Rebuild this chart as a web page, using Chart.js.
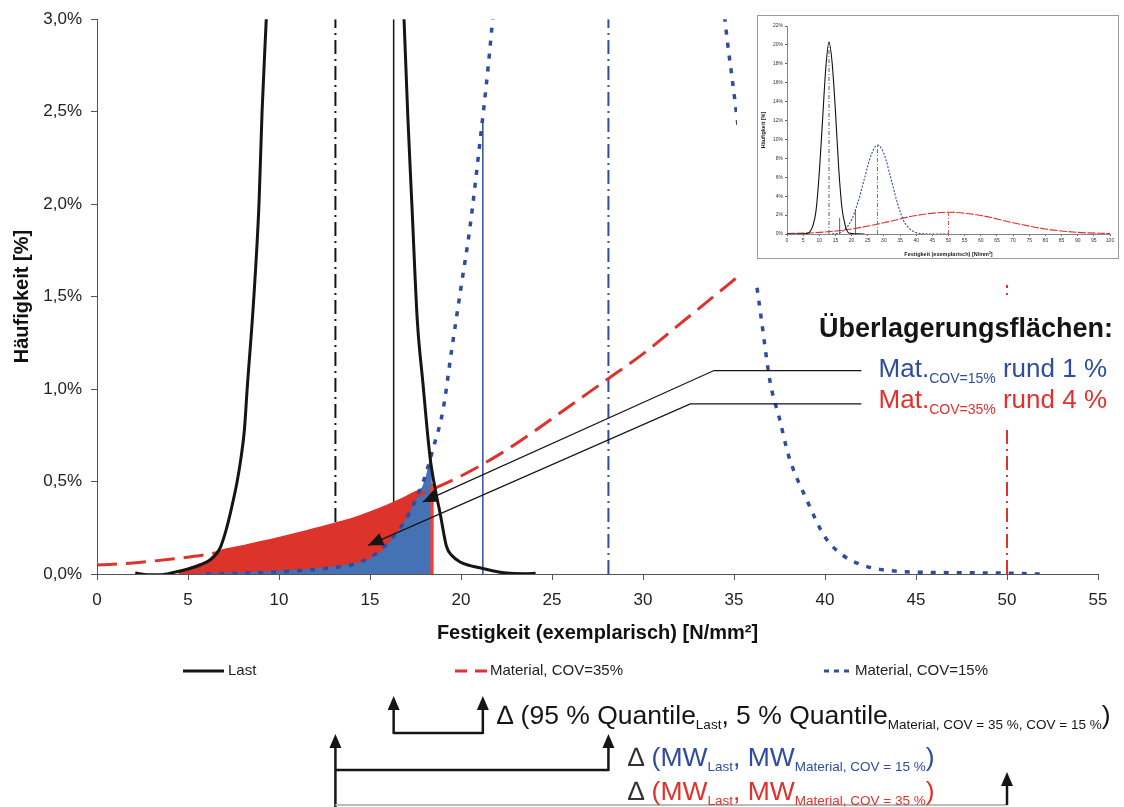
<!DOCTYPE html>
<html>
<head>
<meta charset="utf-8">
<script src="https://cdn.jsdelivr.net/npm/chart.js@4.4.1/dist/chart.umd.min.js"></script>
<style>
html, body { margin: 0; padding: 0; background: #fff; }
#wrap { position: relative; width: 1124px; height: 807px; overflow: hidden; }
#main { position: absolute; left: 0; top: 0; }
#insetBox { position: absolute; left: 737px; top: 0; width: 387px; height: 285px; background: #fff; }
</style>
</head>
<body>
<div id="wrap">
  <canvas id="main" width="1124" height="807"></canvas>
  <div id="insetBox"><canvas id="inset" width="387" height="285"></canvas></div>
</div>
<script>
// ---- Daten Hauptdiagramm (Häufigkeit in %) ----
var lastX = [2.1, 2.8, 3.5, 4.2, 5.1, 5.7, 6.2, 6.76, 7.1, 7.4, 7.7, 7.9, 8.1, 8.25, 8.6, 8.9, 9.07, 9.3, 9.6, 10.5, 12, 13.1, 14, 15.5, 16.6, 16.87, 17.08, 17.3, 17.6, 17.9, 18.3, 18.6, 18.85, 19.2, 19.5, 19.95, 20.5, 21.2, 22.0, 22.5, 23.5, 24.1];
var lastY = [0.005, -0.004, -0.004, 0.008, 0.03, 0.05, 0.075, 0.14, 0.24, 0.36, 0.5, 0.62, 0.78, 1.0, 1.47, 2.0, 2.5, 3.0, 3.7, 8.5, 17, 20.3, 18.5, 10, 3.7, 3.0, 2.47, 2.0, 1.37, 1.04, 0.63, 0.45, 0.33, 0.15, 0.1, 0.065, 0.045, 0.03, 0.012, 0.005, 0.002, 0.004];

var mat35X = [0, 2, 4, 6, 8, 10, 12, 14, 16, 18, 20, 22, 24, 26, 28, 30, 32, 34, 36, 38, 40, 43, 46, 50, 55];
var mat35Y = [0.048, 0.06, 0.08, 0.105, 0.145, 0.19, 0.24, 0.29, 0.36, 0.44, 0.53, 0.64, 0.77, 0.91, 1.05, 1.19, 1.35, 1.51, 1.67, 1.82, 1.96, 2.12, 2.24, 2.28, 2.2];

var mat15X = [6, 8, 10, 12, 13, 14, 15, 16, 17, 17.5, 18, 18.5, 19, 19.5, 20, 20.5, 21, 21.5, 22, 23, 25, 28.1, 31, 33, 34, 34.5, 35, 35.5, 36, 36.5, 37, 37.5, 38, 39, 40, 41, 42, 43, 44, 45, 47, 49.6, 51.8];
var mat15Y = [0, 0.004, 0.012, 0.025, 0.035, 0.05, 0.09, 0.17, 0.3, 0.4, 0.52, 0.69, 0.88, 1.22, 1.55, 1.88, 2.3, 2.75, 3.3, 4.6, 7.2, 9.5, 7.2, 4.8, 3.55, 3.0, 2.6, 2.2, 1.75, 1.38, 1.03, 0.84, 0.64, 0.4, 0.2, 0.1, 0.05, 0.025, 0.015, 0.01, 0.007, 0.005, 0];

// Überlagerungsflächen
var overlap35X = [4.5, 5.1, 5.7, 6.2, 6.76, 7, 8, 9, 10, 11, 12, 13, 14, 15, 16, 17, 17.5, 18, 18.4, 18.4];
var overlap35Y = [0, 0.03, 0.05, 0.075, 0.12, 0.128, 0.148, 0.17, 0.192, 0.216, 0.242, 0.268, 0.295, 0.33, 0.37, 0.415, 0.44, 0.465, 0.48, 0];
var overlap15X = [5, 6, 8, 10, 12, 13, 14, 14.8, 15.3, 15.7, 16.2, 16.8, 17.3, 17.6, 17.9, 18.15, 18.4, 18.4];
var overlap15Y = [0, 0.004, 0.01, 0.018, 0.03, 0.04, 0.055, 0.075, 0.1, 0.13, 0.19, 0.27, 0.36, 0.42, 0.48, 0.56, 0.66, 0];

// Kennwerte
var mwLast = 13.1, q95Last = 16.3, q5Mat15 = 21.2, q5Mat15Y = 2.46, mwMat15 = 28.1, mwMat35 = 50;
var overlapEnd = 18.4, overlapEndY = 0.48;

// ---- Daten Inset ----
var lastInX = [0, 5, 6, 7, 8, 9, 10, 11, 12, 13, 14, 15, 16, 17, 18, 19, 20, 22, 24];
var lastInY = [0, 0.02, 0.05, 0.2, 0.85, 2.5, 6.5, 12, 17.5, 20.3, 18, 13, 7, 2.8, 0.95, 0.15, 0.06, 0.01, 0];
var mat15InX = [14, 16, 18, 20, 22, 24, 26, 28, 30, 32, 34, 36, 38, 40, 42, 45, 50];
var mat15InY = [0.02, 0.1, 0.5, 1.5, 3.4, 5.9, 8.3, 9.4, 8.5, 6.1, 3.5, 1.5, 0.55, 0.15, 0.03, 0, 0];
var mat35InX = [0, 10, 20, 30, 40, 50, 60, 70, 80, 90, 100];
var mat35InY = [0.05, 0.17, 0.53, 1.19, 1.96, 2.3, 1.96, 1.19, 0.53, 0.17, 0.05];
var yTicksMain = [0, 0.5, 1, 1.5, 2, 2.5, 3];

var BLACK = '#151515', BLUE = '#2f4c9e', BLUE_FILL = '#4472b4', RED = '#e0322c', RED_FILL = '#dc332b';
var FONT = "'Liberation Sans', Arial, sans-serif";
Chart.defaults.font.family = FONT;
Chart.defaults.color = '#222';

function pts(xs, ys) { return xs.map(function (x, i) { return { x: x, y: ys[i] }; }); }
function vline(x, y0, y1) { return [{ x: x, y: y0 }, { x: x, y: y1 }]; }

function line(data, color, width, dash, order, extra) {
    var d = {
        data: data, borderColor: color, borderWidth: width, borderDash: dash || [],
        pointRadius: 0, fill: false, tension: 0, order: order
    };
    for (var k in extra) d[k] = extra[k];
    return d;
}

function richText(ctx, x, y, parts, align) {
    var w = 0;
    parts.forEach(function (p) { ctx.font = p.f; p.w = ctx.measureText(p.t).width; w += p.w; });
    var cx = align === 'right' ? x - w : x;
    ctx.textAlign = 'left';
    ctx.textBaseline = 'alphabetic';
    parts.forEach(function (p) {
        ctx.font = p.f; ctx.fillStyle = p.c;
        ctx.fillText(p.t, cx, y + (p.dy || 0));
        cx += p.w;
    });
}

function arrowHead(ctx, fx, fy, tx, ty, len, half) {
    var a = Math.atan2(ty - fy, tx - fx);
    ctx.beginPath();
    ctx.moveTo(tx, ty);
    ctx.lineTo(tx - len * Math.cos(a) + half * Math.sin(a), ty - len * Math.sin(a) - half * Math.cos(a));
    ctx.lineTo(tx - len * Math.cos(a) - half * Math.sin(a), ty - len * Math.sin(a) + half * Math.cos(a));
    ctx.closePath();
    ctx.fill();
}

function upArrow(ctx, x, yTip, yBase) {
    ctx.beginPath();
    ctx.moveTo(x, yBase);
    ctx.lineTo(x, yTip + 10);
    ctx.stroke();
    arrowHead(ctx, x, yBase, x, yTip, 14, 6);
}

var annotations = {
    id: 'annotations',
    afterDraw: function (chart) {
        var ctx = chart.ctx, xs = chart.scales.x, ys = chart.scales.y;
        var px = function (v) { return xs.getPixelForValue(v); };
        var py = function (v) { return ys.getPixelForValue(v); };
        ctx.save();

        // Hintergrund des Textblocks
        ctx.fillStyle = '#fff';
        ctx.fillRect(815, 300, 309, 125);

        // Hinweislinien zu den Überlagerungsflächen
        var leaders = [
            { tip: [17.9, 0.39], elbow: [33.9, 1.1], end: 42.0 },
            { tip: [14.9, 0.155], elbow: [32.6, 0.92], end: 42.0 }
        ];
        ctx.strokeStyle = BLACK; ctx.fillStyle = BLACK; ctx.lineWidth = 1.2;
        leaders.forEach(function (l) {
            var ex = px(l.elbow[0]), ey = py(l.elbow[1]);
            var tx = px(l.tip[0]), ty = py(l.tip[1]);
            ctx.beginPath();
            ctx.moveTo(px(l.end), ey);
            ctx.lineTo(ex, ey);
            ctx.lineTo(tx, ty);
            ctx.stroke();
            arrowHead(ctx, ex, ey, tx, ty, 15, 6.5);
        });

        // Textblock rechts
        ctx.fillStyle = BLACK;
        ctx.font = 'bold 27px ' + FONT;
        ctx.textAlign = 'right';
        ctx.fillText('Überlagerungsflächen:', 1113, 337);
        richText(ctx, 1107, 377, [
            { t: 'Mat.', f: '26px ' + FONT, c: BLUE },
            { t: 'COV=15%', f: '14px ' + FONT, c: BLUE, dy: 6 },
            { t: ' rund 1 %', f: '26px ' + FONT, c: BLUE }
        ], 'right');
        richText(ctx, 1107, 408, [
            { t: 'Mat.', f: '26px ' + FONT, c: RED },
            { t: 'COV=35%', f: '14px ' + FONT, c: RED, dy: 6 },
            { t: ' rund 4 %', f: '26px ' + FONT, c: RED }
        ], 'right');

        // Legende
        var ly = 671;
        ctx.lineWidth = 3;
        ctx.strokeStyle = BLACK;
        ctx.beginPath(); ctx.moveTo(183, ly); ctx.lineTo(224, ly); ctx.stroke();
        ctx.strokeStyle = RED;
        ctx.beginPath(); ctx.moveTo(455, ly); ctx.lineTo(467, ly); ctx.moveTo(475, ly); ctx.lineTo(487, ly); ctx.stroke();
        ctx.strokeStyle = BLUE;
        ctx.beginPath();
        [824, 834, 844].forEach(function (x) { ctx.moveTo(x, ly); ctx.lineTo(x + 5, ly); });
        ctx.stroke();
        ctx.font = '15px ' + FONT; ctx.fillStyle = '#222';
        ctx.textAlign = 'left'; ctx.textBaseline = 'middle';
        ctx.fillText('Last', 228, ly);
        ctx.fillText('Material, COV=35%', 490, ly);
        ctx.fillText('Material, COV=15%', 855, ly);

        // Abstandspfeile unter dem Diagramm
        ctx.strokeStyle = BLACK; ctx.fillStyle = BLACK; ctx.lineWidth = 2.5;
        var a = px(q95Last), b = px(q5Mat15), m = px(mwLast), m15 = px(mwMat15), m35 = px(mwMat35);
        ctx.beginPath(); ctx.moveTo(a, 733); ctx.lineTo(b, 733); ctx.stroke();
        upArrow(ctx, a, 696, 734);
        upArrow(ctx, b, 696, 734);
        ctx.beginPath(); ctx.moveTo(m, 770); ctx.lineTo(m15, 770); ctx.stroke();
        upArrow(ctx, m, 734, 807);
        upArrow(ctx, m15, 734, 771);
        ctx.strokeStyle = '#bbb'; ctx.lineWidth = 2;
        ctx.beginPath(); ctx.moveTo(m, 805); ctx.lineTo(m35, 805); ctx.stroke();
        ctx.strokeStyle = BLACK; ctx.lineWidth = 2.5;
        upArrow(ctx, m35, 772, 805);

        var big = '26.5px ' + FONT, small = '13.5px ' + FONT;
        richText(ctx, 497, 724, [
            { t: '\u2206 (95 % Quantile', f: big, c: BLACK },
            { t: 'Last', f: small, c: BLACK, dy: 5 },
            { t: ', 5 % Quantile', f: big, c: BLACK },
            { t: 'Material, COV = 35 %, COV = 15 %', f: small, c: BLACK, dy: 5 },
            { t: ')', f: big, c: BLACK }
        ]);
        [[766, BLUE, 'Material, COV = 15 %'], [800, RED, 'Material, COV = 35 %']].forEach(function (r) {
            richText(ctx, 628, r[0], [
                { t: '\u2206 ', f: big, c: '#333' },
                { t: '(MW', f: big, c: r[1] },
                { t: 'Last', f: small, c: r[1], dy: 5 },
                { t: ', MW', f: big, c: r[1] },
                { t: r[2], f: small, c: r[1], dy: 5 },
                { t: ')', f: big, c: r[1] }
            ]);
        });
        ctx.restore();
    }
};

var dashDot = [14, 5, 2, 5];

new Chart(document.getElementById('main'), {
    type: 'line',
    data: {
        datasets: [
            line(vline(mwLast, 0, 3), BLACK, 2, dashDot, 20),
            line(vline(q95Last, 0, 3), BLACK, 1.5, [], 19),
            line(vline(mwMat15, 0, 3), BLUE, 2, dashDot, 18),
            line(vline(mwMat35, 0, 3), RED, 2, dashDot, 17),
            line(pts(overlap35X, overlap35Y), RED_FILL, 3, [], 16, { fill: 'origin', backgroundColor: RED_FILL, cubicInterpolationMode: 'monotone' }),
            line(pts(overlap15X, overlap15Y), BLUE_FILL, 0, [], 15, { fill: 'origin', backgroundColor: BLUE_FILL, cubicInterpolationMode: 'monotone' }),
            line(vline(overlapEnd, 0, overlapEndY), '#ff3b30', 3, [], 14),
            line(vline(q5Mat15, 0, q5Mat15Y), BLUE, 1.5, [], 13),
            line(pts(mat35X, mat35Y), RED, 3, [20, 9], 12, { cubicInterpolationMode: 'monotone' }),
            line(pts(mat15X, mat15Y), BLUE, 3.5, [5, 8], 11, { cubicInterpolationMode: 'monotone' }),
            line(pts(lastX, lastY), BLACK, 3, [], 10, { cubicInterpolationMode: 'monotone' })
        ]
    },
    options: {
        responsive: false,
        animation: false,
        events: [],
        layout: { padding: { left: 0, top: 16, right: 26, bottom: 153 } },
        plugins: { legend: { display: false }, tooltip: { enabled: false } },
        scales: {
            x: {
                type: 'linear', min: 0, max: 55,
                ticks: { stepSize: 5, autoSkip: false, maxRotation: 0, padding: 10, font: { size: 17 }, color: '#222' },
                grid: { drawOnChartArea: false, tickLength: 6, tickColor: '#555' },
                border: { color: '#555', width: 1 },
                title: { display: true, text: 'Festigkeit (exemplarisch) [N/mm²]', font: { size: 20, weight: 'bold' }, color: '#111', padding: { top: 0, bottom: 9 } },
                afterFit: function (s) { s.height = 80; }
            },
            y: {
                type: 'linear', min: 0, max: 3,
                afterBuildTicks: function (s) { s.ticks = yTicksMain.map(function (v) { return { value: v }; }); },
                ticks: {
                    padding: 9, font: { size: 17 }, color: '#222',
                    callback: function (v) { return v.toFixed(1).replace('.', ',') + '%'; }
                },
                grid: { drawOnChartArea: false, tickLength: 6, tickColor: '#555' },
                border: { color: '#555', width: 1 },
                title: { display: true, text: 'Häufigkeit [%]', font: { size: 20, weight: 'bold' }, color: '#111', padding: { top: 10, bottom: 0 } },
                afterFit: function (s) { s.width = 97; }
            }
        }
    },
    plugins: [annotations]
});

// ---- Inset ----
var insetFrame = {
    id: 'insetFrame',
    afterDraw: function (chart) {
        var c = chart.ctx;
        c.save();
        c.strokeStyle = '#999'; c.lineWidth = 1;
        c.strokeRect(20.5, 15.5, 361, 243);
        c.restore();
    }
};
var dd = [4, 2, 1, 2];
new Chart(document.getElementById('inset'), {
    type: 'line',
    data: {
        datasets: [
            line(vline(13, 0, 20.3), '#333', 0.8, dd, 9),
            line(vline(q95Last, 0, 1.7), '#333', 0.8, [], 8),
            line(vline(q5Mat15, 0, 2.5), BLUE, 0.8, [], 7),
            line(vline(28, 0, 9.4), BLUE, 0.8, dd, 6),
            line(vline(mwMat35, 0, 2.3), RED, 0.8, dd, 5),
            line(pts(mat35InX, mat35InY), RED, 1.1, [8, 1.5], 4, { cubicInterpolationMode: 'monotone' }),
            line(pts(mat15InX, mat15InY), BLUE, 1.1, [2, 1.5], 3, { cubicInterpolationMode: 'monotone' }),
            line(pts(lastInX, lastInY), '#111', 1.1, [], 2, { cubicInterpolationMode: 'monotone' })
        ]
    },
    options: {
        responsive: false,
        animation: false,
        events: [],
        layout: { padding: { left: 20, top: 26, right: 14, bottom: 25 } },
        plugins: { legend: { display: false }, tooltip: { enabled: false } },
        scales: {
            x: {
                type: 'linear', min: 0, max: 100,
                ticks: { stepSize: 5, autoSkip: false, maxRotation: 0, padding: 2, font: { size: 5 }, color: '#333' },
                grid: { drawOnChartArea: false, tickLength: 2, tickColor: '#666' },
                border: { color: '#666', width: 0.8 },
                title: { display: true, text: 'Festigkeit (exemplarisch) [N/mm²]', font: { size: 5.5, weight: 'bold' }, color: '#222', padding: { top: 0, bottom: 2 } },
                afterFit: function (s) { s.height = 26; }
            },
            y: {
                type: 'linear', min: 0, max: 22,
                ticks: { stepSize: 2, autoSkip: false, padding: 2, font: { size: 5 }, color: '#333', callback: function (v) { return v + '%'; } },
                grid: { drawOnChartArea: false, tickLength: 2, tickColor: '#666' },
                border: { color: '#666', width: 0.8 },
                title: { display: true, text: 'Häufigkeit [%]', font: { size: 5.5, weight: 'bold' }, color: '#222', padding: { top: 3, bottom: 0 } },
                afterFit: function (s) { s.width = 30; }
            }
        }
    },
    plugins: [insetFrame]
});
</script>
</body>
</html>
